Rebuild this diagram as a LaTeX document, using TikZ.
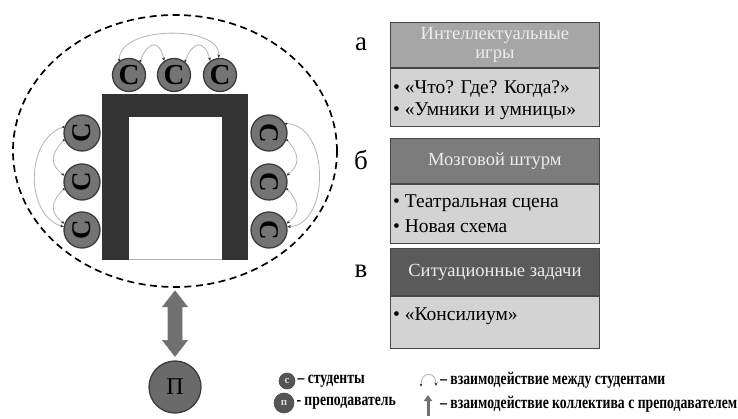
\documentclass[tikz,border=0pt]{standalone}
\usepackage{fontspec}
\setmainfont{Liberation Serif}
\usetikzlibrary{shapes.geometric,arrows.meta,calc}
\definecolor{tabc}{HTML}{333333}
\definecolor{studc}{HTML}{747474}
\definecolor{studedge}{HTML}{3C3C3C}
\definecolor{linkc}{HTML}{B4B4B4}
\definecolor{hdrA}{HTML}{A6A6A6}
\definecolor{hdrB}{HTML}{7C7C7C}
\definecolor{hdrC}{HTML}{5A5A5A}
\definecolor{bodyc}{HTML}{D3D3D3}
\definecolor{boxedge}{HTML}{474747}
\definecolor{hdrtext}{HTML}{EDEDED}
\definecolor{legc}{HTML}{555555}
\definecolor{teachc}{HTML}{6A6A6A}
\definecolor{arrc}{HTML}{707070}
\newcommand{\legtext}[1]{\scalebox{1}[1.3]{#1}}
\begin{document}
\begin{tikzpicture}[x=1pt,y=-1pt,
  stud/.style={circle, fill=studc, draw=studedge, line width=1.3pt, inner sep=0pt, minimum size=33pt, font=\bfseries\fontsize{29}{29}\selectfont},
  sidestud/.style={stud, minimum size=36pt, font=\bfseries\fontsize{27}{27}\selectfont},
  link/.style={draw=linkc, line width=0.8pt, {Circle[length=2.2pt,color=black!80]}-{Stealth[length=3.5pt,width=3pt,color=black!80]}},
  hdr/.style={draw=boxedge, line width=0.8pt, minimum width=209pt, anchor=north west, inner sep=0pt, text=hdrtext, font=\fontsize{18.5}{19}\selectfont, align=center},
  bdy/.style={draw=boxedge, line width=0.8pt, fill=bodyc, minimum width=209pt, anchor=north west, inner sep=0pt},
  item/.style={anchor=west, inner sep=0pt, font=\fontsize{19.5}{22}\selectfont},
  letter/.style={font=\fontsize{27}{27}\selectfont, inner sep=0pt},
  leg/.style={anchor=west, inner sep=0pt, font=\bfseries\fontsize{13.7}{14}\selectfont},
  legdot/.style={circle, fill=legc, draw=black!70, line width=0.6pt, inner sep=0pt, text=white!85!black, font=\bfseries\fontsize{11}{11}\selectfont}
]
\useasboundingbox (0,0) rectangle (738,419);
\fill[white] (0,0) rectangle (738,419);

% group ellipse
\node[ellipse, draw=black, dash pattern=on 7pt off 4.5pt, line width=1.7pt, minimum width=324pt, minimum height=272pt, inner sep=0pt] (grp) at (175,151) {};

% table
\fill[tabc] (102,94) rectangle (248,260);
\fill[white] (129,117) rectangle (222,260);
\draw[gray!60, line width=0.5pt] (129,259.5) -- (222,259.5);

% students
\node[stud] (t1) at (129,75) {С};
\node[stud] (t2) at (174,75) {С};
\node[stud] (t3) at (220,75) {С};
\node[sidestud] (l1) at (82,133) {\rotatebox{90}{С}};
\node[sidestud] (l2) at (82,182) {\rotatebox{90}{С}};
\node[sidestud] (l3) at (82,230) {\rotatebox{90}{С}};
\node[sidestud] (r1) at (269,133) {\rotatebox{-90}{С}};
\node[sidestud] (r2) at (269,182) {\rotatebox{-90}{С}};
\node[sidestud] (r3) at (269,230) {\rotatebox{-90}{С}};

% interactions
\draw[link] (t1.125) .. controls (120,25) and (222,25) .. (t3.95);
\draw[link] (t1.50) .. controls (148,40) and (160,40) .. (t2.125);
\draw[link] (t2.50) .. controls (193,40) and (205,40) .. (t3.125);
\draw[link] (l1.160) .. controls (25,140) and (25,215) .. (l3.170);
\draw[link] (l1.200) .. controls (50,155) and (50,165) .. (l2.160);
\draw[link] (l2.200) .. controls (50,203) and (50,213) .. (l3.160);
\draw[link] (r1.30) .. controls (330,125) and (330,225) .. (r3.10);
\draw[link] (r1.340) .. controls (300,155) and (300,165) .. (r2.20);
\draw[link] (r2.340) .. controls (300,203) and (300,213) .. (r3.20);

% teacher
\node[circle, fill=teachc, draw=studedge, line width=1.3pt, minimum size=52pt, inner sep=0pt, font=\fontsize{24}{24}\selectfont] (teach) at (175,387) {П};
\coordinate (dt) at ($(grp.south)+(0,3)$);
\coordinate (db) at ($(teach.north)+(0,-4)$);
\filldraw[fill=arrc, draw=black!55, line width=0.6pt] (dt) -- ($(dt)+(12.5,16)$) -- ($(dt)+(7,16)$) -- ($(db)+(7,-16)$) -- ($(db)+(12.5,-16)$) -- (db) -- ($(db)+(-12.5,-16)$) -- ($(db)+(-7,-16)$) -- ($(dt)+(-7,16)$) -- ($(dt)+(-12.5,16)$) -- cycle;

% letters
\node[letter] (la) at (361,44) {а};
\node[letter] (lb) at (361,160) {б};
\node[letter] (lv) at (361,271) {в};

% boxes
\node[hdr, fill=hdrA, minimum height=45pt] (h1) at (390,22) {Интеллектуальные\\игры};
\node[bdy, minimum height=58pt] (b1) at (h1.south west) {};
\node[item] (i1a) at ($(b1.north west)+(3,21)$) {• «Что? Где? Когда?»};
\node[item] (i1b) at ($(b1.north west)+(3,43)$) {• «Умники и умницы»};

\node[hdr, fill=hdrB, minimum height=45pt] (h2) at (390,138) {Мозговой штурм};
\node[bdy, minimum height=59pt] (b2) at (h2.south west) {};
\node[item] (i2a) at ($(b2.north west)+(3,19)$) {• Театральная сцена};
\node[item] (i2b) at ($(b2.north west)+(3,42)$) {• Новая схема};

\node[hdr, fill=hdrC, minimum height=47pt] (h3) at (390,248) {Ситуационные задачи};
\node[bdy, minimum height=52pt] (b3) at (h3.south west) {};
\node[item] (i3a) at ($(b3.north west)+(3,20)$) {• «Консилиум»};

% legend
\node[legdot, minimum size=16pt] (lc) at (287,381) {с};
\node[leg] (lct) at ($(lc.east)+(2,0)$) {\legtext{– студенты}};
\node[legdot, minimum size=20pt] (lp) at (284,403) {п};
\node[leg] (lpt) at ($(lp.east)+(2,0)$) {\legtext{- преподаватель}};
\coordinate (li1) at (421,386);
\coordinate (li2) at (436,386);
\draw[link] (li1) .. controls (421,371) and (436,371) .. (li2);
\coordinate (va1) at (428,416);
\coordinate (va2) at (428,395);
\draw[line width=3pt, draw=arrc, -{Triangle[length=6pt,width=8pt]}] (va1) -- (va2);
\node[leg] (lit) at (440,380) {\legtext{– взаимодействие между студентами}};
\node[leg] (lvt) at (440,404) {\legtext{– взаимодействие коллектива с преподавателем}};
\end{tikzpicture}
\end{document}
